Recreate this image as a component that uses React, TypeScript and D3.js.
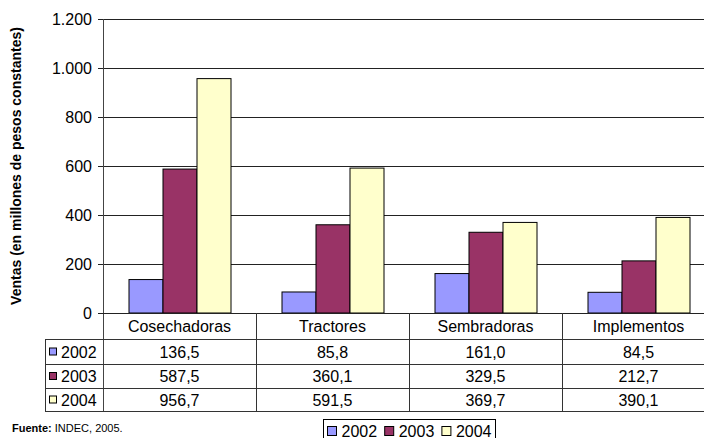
import React from "react";
import * as d3 from "d3";

// Agricultural machinery sales by type and year (millions of constant pesos)
const categories = ["Cosechadoras", "Tractores", "Sembradoras", "Implementos"];
const years = ["2002", "2003", "2004"];
const values2002 = [136.5, 85.8, 161.0, 84.5];
const values2003 = [587.5, 360.1, 329.5, 212.7];
const values2004 = [956.7, 591.5, 369.7, 390.1];
const yTicks = [0, 200, 400, 600, 800, 1000, 1200];
const seriesColors = ["#9999FF", "#993366", "#FFFFCC"];

const W = 704;
const H = 438;
const FONT = "'Liberation Sans', Arial, sans-serif";

const fmtTick = (v: number) =>
  v >= 1000 ? `${Math.floor(v / 1000)}.${String(v % 1000).padStart(3, "0")}` : String(v);
const fmtVal = (v: number) => v.toFixed(1).replace(".", ",");

export default function App() {
  const series = [values2002, values2003, values2004];
  const left = 103;
  const bandW = 153;
  const top = 19;
  const base = 313;

  const x = d3
    .scaleBand<string>()
    .domain(categories)
    .range([left, left + bandW * categories.length])
    .paddingInner(0)
    .paddingOuter(0);
  const inner = d3
    .scaleBand<string>()
    .domain(years)
    .range([bandW / 6, bandW - bandW / 6])
    .padding(0);
  const y = d3.scaleLinear().domain([0, 1200]).range([base, top]);

  const rowEdges = [313, 339.5, 364.5, 388.5, 411.5];
  const tableRight = left + bandW * categories.length;
  const lineColor = "#333";
  const fs = 16;

  return (
    <svg
      width={W}
      height={H}
      style={{ position: "absolute", left: 0, top: 0, background: "#fff" }}
      fontFamily={FONT}
    >
      {/* gridlines and y ticks */}
      {yTicks.map((t) => (
        <g key={t}>
          <line x1={left} x2={tableRight} y1={Math.round(y(t)) + 0.5} y2={Math.round(y(t)) + 0.5} stroke="#222" />
          <line x1={left - 5} x2={left} y1={Math.round(y(t)) + 0.5} y2={Math.round(y(t)) + 0.5} stroke="#222" />
          <text x={92} y={y(t)} dy="0.36em" textAnchor="end" fontSize={fs} fill="#000">
            {fmtTick(t)}
          </text>
        </g>
      ))}

      {/* bars */}
      {categories.map((c, ci) => (
        <g key={c} transform={`translate(${x(c)},0)`}>
          {years.map((yr, si) => {
            const v = series[si][ci];
            return (
              <rect
                key={yr}
                x={(inner(yr) as number) + 0.5}
                y={y(v)}
                width={inner.bandwidth()}
                height={base - y(v)}
                fill={seriesColors[si]}
                stroke="#000"
                strokeWidth={1}
              />
            );
          })}
        </g>
      ))}

      {/* y axis */}
      <line x1={left + 0.5} x2={left + 0.5} y1={top} y2={rowEdges[4]} stroke="#444" />
      <line x1={left} x2={tableRight} y1={base + 0.5} y2={base + 0.5} stroke="#222" />

      {/* data table */}
      {rowEdges.slice(1).map((ry) => (
        <line key={ry} x1={45} x2={tableRight} y1={ry} y2={ry} stroke={lineColor} />
      ))}
      <line x1={45.5} x2={45.5} y1={rowEdges[1]} y2={rowEdges[4]} stroke={lineColor} />
      {categories.map((c, ci) =>
        ci > 0 ? (
          <line
            key={c}
            x1={(x(c) as number) + 0.5}
            x2={(x(c) as number) + 0.5}
            y1={base}
            y2={rowEdges[4]}
            stroke={lineColor}
          />
        ) : null
      )}
      {categories.map((c) => (
        <text
          key={c}
          x={(x(c) as number) + bandW / 2}
          y={(rowEdges[0] + rowEdges[1]) / 2}
          dy="0.36em"
          textAnchor="middle"
          fontSize={fs}
        >
          {c}
        </text>
      ))}
      {years.map((yr, si) => {
        const cy = (rowEdges[si + 1] + rowEdges[si + 2]) / 2;
        return (
          <g key={yr}>
            <rect x={49.5} y={cy - 4} width={7} height={7} fill={seriesColors[si]} stroke="#000" />
            <text x={61} y={cy} dy="0.36em" fontSize={fs}>
              {yr}
            </text>
            {categories.map((c, ci) => (
              <text
                key={c}
                x={(x(c) as number) + bandW / 2}
                y={cy}
                dy="0.36em"
                textAnchor="middle"
                fontSize={fs}
              >
                {fmtVal(series[si][ci])}
              </text>
            ))}
          </g>
        );
      })}

      {/* y axis title */}
      <text
        transform={`translate(20.5,${(top + base) / 2}) rotate(-90)`}
        textAnchor="middle"
        fontSize={14}
        fontWeight="bold"
      >
        Ventas (en millones de pesos constantes)
      </text>

      {/* source */}
      <text x={12} y={431.5} fontSize={11}>
        <tspan fontWeight="bold">Fuente:</tspan> INDEC, 2005.
      </text>

      {/* legend */}
      <rect x={323.5} y={419.5} width={172} height={30} fill="#fff" stroke="#000" />
      {years.map((yr, si) => {
        const lx = 327 + si * 57.2;
        return (
          <g key={yr}>
            <rect x={lx + 0.5} y={426.5} width={9} height={9} fill={seriesColors[si]} stroke="#000" />
            <text x={lx + 14.5} y={431} dy="0.36em" fontSize={fs}>
              {yr}
            </text>
          </g>
        );
      })}
    </svg>
  );
}
